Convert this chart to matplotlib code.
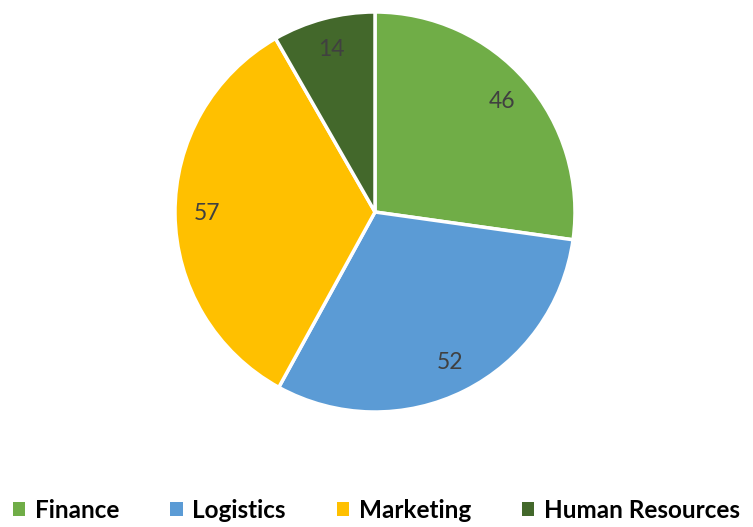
import matplotlib
matplotlib.use("Agg")
import matplotlib.pyplot as plt
from matplotlib.patches import Patch

categories = ["Finance", "Logistics", "Marketing", "Human Resources"]
values = [46, 52, 57, 14]
colors = ["#70AD47", "#5B9BD5", "#FFC000", "#43682B"]

fig = plt.figure(figsize=(7.53, 5.27), dpi=100)
W, H = 753, 527
cx, cy, r = 375, 212, 200
ax = fig.add_axes([(cx - r) / W, (H - cy - r) / H, 2 * r / W, 2 * r / H])
wedges, texts = ax.pie(values, colors=colors, startangle=90, counterclock=False,
                       labels=[str(v) for v in values], labeldistance=0.84,
                       wedgeprops=dict(edgecolor="white", linewidth=2.5),
                       textprops=dict(fontsize=16.5, color="#404040", family="Lato",
                                      ha="center", va="center"))
for t in texts:
    t.set_ha("center"); t.set_va("center")
ax.set_xlim(-1, 1); ax.set_ylim(-1, 1)
ax.set_aspect("equal")
ax.axis("off")

handles = [Patch(facecolor=c, edgecolor="none") for c in colors]
fig.legend(handles, categories, loc="center", bbox_to_anchor=(0.5, 0.032), ncol=4,
           frameon=False, prop=dict(family="Lato", weight="bold", size=17.5),
           handlelength=0.5, handleheight=0.5, handletextpad=0.4, columnspacing=2.1,
           borderaxespad=0, borderpad=0)
fig.savefig("out.png", dpi=100)
